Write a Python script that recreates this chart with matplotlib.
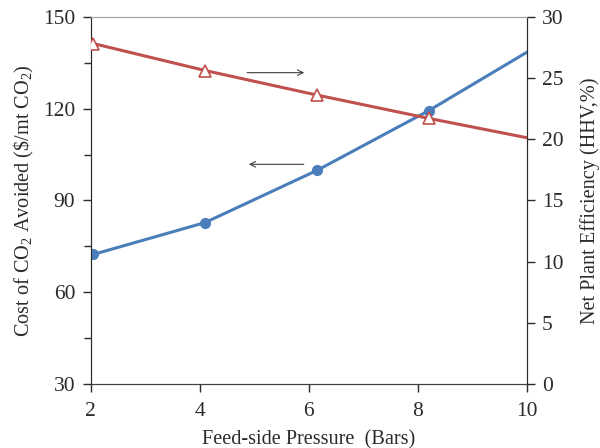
import matplotlib
matplotlib.use("Agg")
import matplotlib.pyplot as plt
from matplotlib.ticker import MultipleLocator

plt.rcParams['font.family'] = ['Liberation Serif', 'DejaVu Serif']
plt.rcParams['mathtext.fontset'] = 'custom'
plt.rcParams['mathtext.rm'] = 'Liberation Serif'

# Data
pressure = [2.05, 4.1, 6.15, 8.2, 10.25]
cost_avoided = [72.4, 82.8, 99.8, 119.3, 141.0]      # $/mt CO2, left axis
efficiency = [27.8, 25.6, 23.6, 21.7, 19.9]           # HHV %, right axis

blue = '#4A7EBB'
red = '#C0504D'
dark = '#2b2b2b'

fig = plt.figure(figsize=(6.0, 4.48), dpi=100)
ax = fig.add_axes([0.151, 0.142, 0.727, 0.821])
ax2 = ax.twinx()

n_marked = 4
ax.plot(pressure, cost_avoided, color=blue, lw=2.2, zorder=3)
ax.plot(pressure[:n_marked], cost_avoided[:n_marked], 'o', color=blue,
        ms=7, zorder=4)
ax2.plot(pressure, efficiency, color=red, lw=2.2, zorder=3)
ax2.plot(pressure[:n_marked], efficiency[:n_marked], '^', mfc='white',
         mec=red, mew=1.2, ms=8, zorder=4)

ax.set_xlim(2, 10)
ax.set_ylim(30, 150)
ax2.set_ylim(0, 30)
ax.xaxis.set_major_locator(MultipleLocator(2))
ax.yaxis.set_major_locator(MultipleLocator(30))
ax.yaxis.set_minor_locator(MultipleLocator(15))
ax2.yaxis.set_major_locator(MultipleLocator(5))

# direction arrows
ax.annotate('', xy=(5.97, 131.7), xytext=(4.82, 131.7),
            arrowprops=dict(arrowstyle='->', color='#404040', lw=0.8))
ax.annotate('', xy=(4.85, 101.8), xytext=(5.96, 101.8),
            arrowprops=dict(arrowstyle='->', color='#404040', lw=0.8))

for a in (ax, ax2):
    a.spines['top'].set_color('#A6A6A6')
    a.spines['bottom'].set_color('#404040')
    a.spines['left'].set_color(dark)
    a.spines['right'].set_color(dark)
    a.tick_params(labelsize=15.5, colors=dark, direction='out', length=6,
                  width=1, pad=5)
    a.tick_params(which='minor', length=5, width=1, colors=dark)
ax.tick_params(axis='x', pad=7)

ax.set_xlabel('Feed-side Pressure  (Bars)', fontsize=14.6, color=dark,
              labelpad=6)
ax.set_ylabel(r'Cost of CO$_2$ Avoided ($\$$/mt CO$_2$)', fontsize=14.6,
              color=dark, labelpad=5)
ax2.set_ylabel('Net Plant Efficiency (HHV,%)', fontsize=14.6, color=dark,
               labelpad=12)

fig.savefig('out.png', dpi=100)
